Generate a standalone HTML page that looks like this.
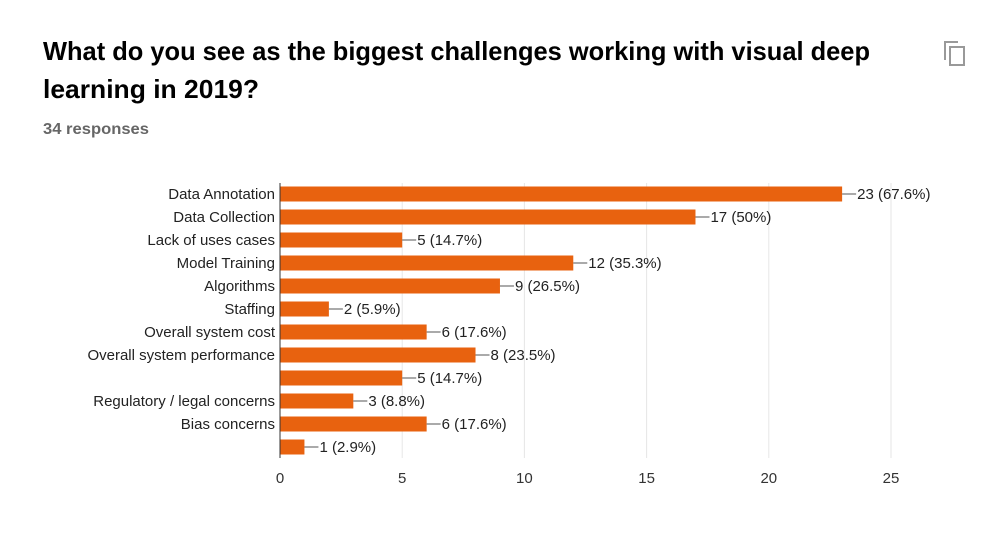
<!DOCTYPE html>
<html><head><meta charset="utf-8"><style>
body{margin:0;background:#fff;width:1000px;height:540px;overflow:hidden}
svg{display:block;font-family:"Liberation Sans",Arial,sans-serif}
</style></head><body>
<svg id="c" width="1000" height="540">
<text x="43" y="60" font-size="26" font-weight="bold" fill="#000" textLength="827" lengthAdjust="spacingAndGlyphs">What do you see as the biggest challenges working with visual deep</text>
<text x="43" y="98" font-size="26" font-weight="bold" fill="#000" textLength="216" lengthAdjust="spacingAndGlyphs">learning in 2019?</text>
<text x="43" y="134" font-size="16" font-weight="bold" fill="#666" textLength="106" lengthAdjust="spacingAndGlyphs">34 responses</text>
<g fill="none" stroke="#999" stroke-width="2">
<rect x="950" y="47" width="14" height="18"/><path d="M945 60 V42 H958"/>
</g>
<g id="grid"></g><g id="bars"></g><g id="labels"></g>
</svg>
<script>
const categories=["Data Annotation","Data Collection","Lack of uses cases","Model Training","Algorithms","Staffing","Overall system cost","Overall system performance","","Regulatory / legal concerns","Bias concerns",""];
const values=[23,17,5,12,9,2,6,8,5,3,6,1];
const percents=["67.6%","50%","14.7%","35.3%","26.5%","5.9%","17.6%","23.5%","14.7%","8.8%","17.6%","2.9%"];
const ticks=[0,5,10,15,20,25];
const NS="http://www.w3.org/2000/svg";
const x0=280,x1=891,plotTop=183,plotBottom=458,maxV=25;
const xs=v=>x0+(x1-x0)*v/maxV;
const ys=i=>plotTop+11+i*23;
function mk(t,a,p){const e=document.createElementNS(NS,t);for(const k in a)e.setAttribute(k,a[k]);p.appendChild(e);return e;}
const g=document.getElementById('grid'),b=document.getElementById('bars'),l=document.getElementById('labels');
ticks.forEach(t=>{
 const ln=mk('line',{x1:xs(t),x2:xs(t),y1:plotTop,y2:plotBottom,stroke:'#e6e6e6'},g);
 
 
 const tx=mk('text',{x:xs(t),y:483,'font-size':15,'text-anchor':'middle',fill:'#333'},l);
 tx.textContent=t;
 
 
});
values.forEach((v,i)=>{
 const y=ys(i);
 const r=mk('rect',{x:x0,y:y-7.5,width:xs(v)-x0,height:15,fill:'#e8620f'},b);
 
 
 const c=mk('text',{x:275,y:y+5,'font-size':15,'text-anchor':'end',fill:'#222'},l);
 c.textContent=categories[i];
 
 
 mk('line',{x1:xs(v),x2:xs(v)+14,y1:y,y2:y,stroke:'#555'},l);
 const vl=mk('text',{x:xs(v)+15,y:y+5,'font-size':15,fill:'#222'},l);
 vl.textContent=v+" ("+percents[i]+")";
 
 
});
const ax=mk('line',{x1:x0,x2:x0,y1:plotTop,y2:plotBottom,stroke:'#333'},l);


</script>
</body></html>
